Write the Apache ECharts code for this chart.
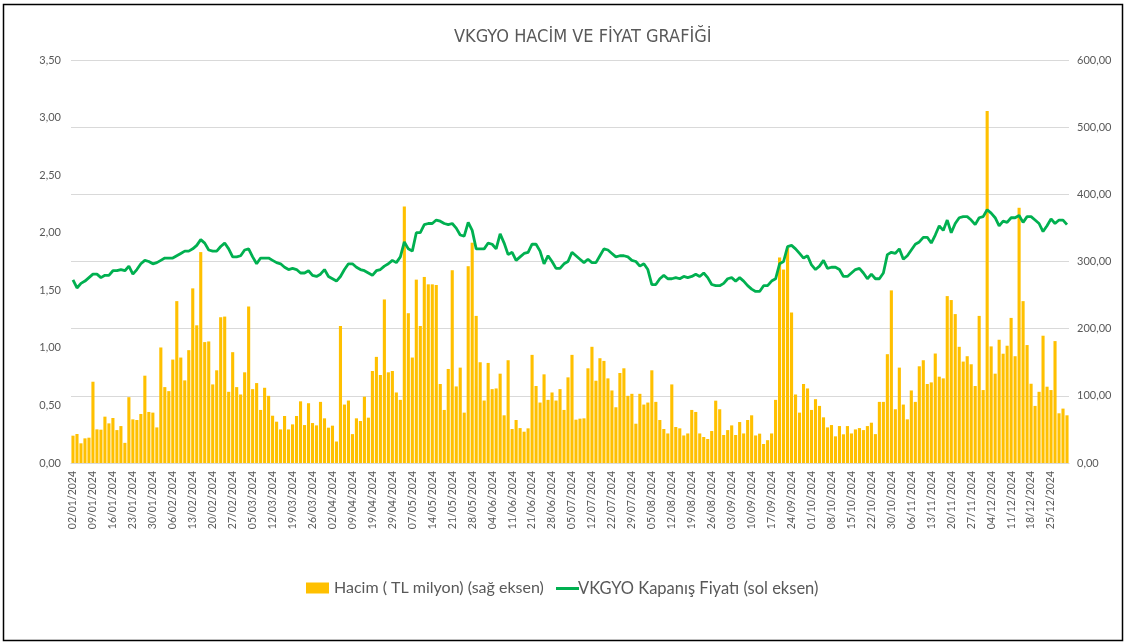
<!DOCTYPE html>
<html>
<head>
<meta charset="utf-8">
<script src="https://cdn.jsdelivr.net/npm/echarts@6/dist/echarts.min.js"></script>
<style>
html,body{margin:0;padding:0;background:#fff;}
#chart{width:1130px;height:643px;}
</style>
</head>
<body>
<div id="chart"></div>
<script>
const dates = [
"02/01/2024","03/01/2024","04/01/2024","05/01/2024","08/01/2024","09/01/2024","10/01/2024","11/01/2024","12/01/2024","15/01/2024",
"16/01/2024","17/01/2024","18/01/2024","19/01/2024","22/01/2024","23/01/2024","24/01/2024","25/01/2024","26/01/2024","29/01/2024",
"30/01/2024","31/01/2024","01/02/2024","02/02/2024","05/02/2024","06/02/2024","07/02/2024","08/02/2024","09/02/2024","12/02/2024",
"13/02/2024","14/02/2024","15/02/2024","16/02/2024","19/02/2024","20/02/2024","21/02/2024","22/02/2024","23/02/2024","26/02/2024",
"27/02/2024","28/02/2024","29/02/2024","01/03/2024","04/03/2024","05/03/2024","06/03/2024","07/03/2024","08/03/2024","11/03/2024",
"12/03/2024","13/03/2024","14/03/2024","15/03/2024","18/03/2024","19/03/2024","20/03/2024","21/03/2024","22/03/2024","25/03/2024",
"26/03/2024","27/03/2024","28/03/2024","29/03/2024","01/04/2024","02/04/2024","03/04/2024","04/04/2024","05/04/2024","08/04/2024",
"09/04/2024","15/04/2024","16/04/2024","17/04/2024","18/04/2024","19/04/2024","22/04/2024","24/04/2024","25/04/2024","26/04/2024",
"29/04/2024","30/04/2024","02/05/2024","03/05/2024","06/05/2024","07/05/2024","08/05/2024","09/05/2024","10/05/2024","13/05/2024",
"14/05/2024","15/05/2024","16/05/2024","17/05/2024","20/05/2024","21/05/2024","22/05/2024","23/05/2024","24/05/2024","27/05/2024",
"28/05/2024","29/05/2024","30/05/2024","31/05/2024","03/06/2024","04/06/2024","05/06/2024","06/06/2024","07/06/2024","10/06/2024",
"11/06/2024","12/06/2024","13/06/2024","14/06/2024","20/06/2024","21/06/2024","24/06/2024","25/06/2024","26/06/2024","27/06/2024",
"28/06/2024","01/07/2024","02/07/2024","03/07/2024","04/07/2024","05/07/2024","08/07/2024","09/07/2024","10/07/2024","11/07/2024",
"12/07/2024","16/07/2024","17/07/2024","18/07/2024","19/07/2024","22/07/2024","23/07/2024","24/07/2024","25/07/2024","26/07/2024",
"29/07/2024","30/07/2024","31/07/2024","01/08/2024","02/08/2024","05/08/2024","06/08/2024","07/08/2024","08/08/2024","09/08/2024",
"12/08/2024","13/08/2024","14/08/2024","15/08/2024","16/08/2024","19/08/2024","20/08/2024","21/08/2024","22/08/2024","23/08/2024",
"26/08/2024","27/08/2024","28/08/2024","29/08/2024","02/09/2024","03/09/2024","04/09/2024","05/09/2024","06/09/2024","09/09/2024",
"10/09/2024","11/09/2024","12/09/2024","13/09/2024","16/09/2024","17/09/2024","18/09/2024","19/09/2024","20/09/2024","23/09/2024",
"24/09/2024","25/09/2024","26/09/2024","27/09/2024","30/09/2024","01/10/2024","02/10/2024","03/10/2024","04/10/2024","07/10/2024",
"08/10/2024","09/10/2024","10/10/2024","11/10/2024","14/10/2024","15/10/2024","16/10/2024","17/10/2024","18/10/2024","21/10/2024",
"22/10/2024","23/10/2024","24/10/2024","25/10/2024","28/10/2024","30/10/2024","31/10/2024","01/11/2024","04/11/2024","05/11/2024",
"06/11/2024","07/11/2024","08/11/2024","11/11/2024","12/11/2024","13/11/2024","14/11/2024","15/11/2024","18/11/2024","19/11/2024",
"20/11/2024","21/11/2024","22/11/2024","25/11/2024","26/11/2024","27/11/2024","28/11/2024","29/11/2024","02/12/2024","03/12/2024",
"04/12/2024","05/12/2024","06/12/2024","09/12/2024","10/12/2024","11/12/2024","12/12/2024","13/12/2024","16/12/2024","17/12/2024",
"18/12/2024","19/12/2024","20/12/2024","23/12/2024","24/12/2024","25/12/2024","26/12/2024","27/12/2024","30/12/2024","31/12/2024"
];

// Hacim (TL milyon) - right axis
const volume = [
40.7,43.2,29.3,36.7,37.7,121,50.1,49.6,69,59,
67,49,55,30,98,65,64,73,130,76,
75,53,172,113,107,154,241,157,123,168,
260,205,314,180,181,117,138,217,218,106,
165,113,102,135,233,110,119,79,112,100,
70.4,61.5,50,70,50,57.5,70,91.8,56.5,89,
59.5,56,91,66.5,52.6,55.6,32,204,87,93,
43,66.5,62.5,98.7,67.5,137,158,131,243.5,135,
137,105,94,382,223,157,273,204,277,266,
266,265,117.6,79,140,287,114,142,75,293,
328,219,150,93,149,110,111,133,71,153,
50.6,64,52,46.6,51.6,161,114.6,90,132,94,
105,93,110,79,127.5,161,64.5,66,66.5,141,
173,122.5,156,152,126,108,83,134,141,100,
103,58.5,103,87,90,138,91,64,50.6,44,
117,53.6,51.6,41,44,79,76,44,38.7,35.7,
47.6,92.8,80,41.7,49,56,41.7,61,44,64,
71,41,43.7,28.3,34,44,94,306,288,321,
224,102,75,117.6,111,79,95,85,68,53,
56.5,39.7,55,42.7,55,44,50,52,49,55,
60,43,91,91,162,257,80,142,87,65,
108,91,144,153,117.6,120,163,128.5,126,248.5,
242.6,221.7,173,151,159,147,114.6,219,108.6,524,
173.6,133,183.5,162.7,174.6,216,159,380,241,175.6,
118,85,106,189.5,113.6,108.6,181.5,74,81,71
];

// VKGYO Kapanış Fiyatı - left axis
const price = [
1.59,1.52,1.56,1.58,1.61,1.64,1.64,1.61,1.63,1.63,
1.67,1.67,1.68,1.67,1.71,1.64,1.68,1.73,1.76,1.75,
1.73,1.74,1.76,1.78,1.78,1.78,1.80,1.82,1.84,1.84,
1.86,1.89,1.94,1.91,1.85,1.84,1.84,1.88,1.91,1.86,
1.79,1.79,1.80,1.85,1.86,1.79,1.73,1.78,1.78,1.78,
1.76,1.74,1.73,1.70,1.68,1.69,1.68,1.65,1.65,1.67,
1.63,1.62,1.64,1.68,1.62,1.60,1.58,1.62,1.68,1.73,
1.73,1.70,1.68,1.67,1.65,1.63,1.67,1.68,1.71,1.73,
1.76,1.74,1.79,1.92,1.86,1.84,2.00,2.00,2.07,2.08,
2.08,2.11,2.10,2.08,2.07,2.08,2.04,1.98,1.97,2.09,
2.02,1.86,1.86,1.86,1.91,1.90,1.86,1.99,1.91,1.81,
1.83,1.76,1.79,1.82,1.83,1.90,1.90,1.84,1.73,1.80,
1.75,1.69,1.69,1.73,1.75,1.83,1.80,1.77,1.74,1.77,
1.74,1.74,1.80,1.86,1.85,1.82,1.79,1.80,1.80,1.79,
1.76,1.75,1.71,1.73,1.68,1.55,1.55,1.60,1.63,1.60,
1.60,1.61,1.60,1.62,1.61,1.62,1.64,1.62,1.65,1.61,
1.55,1.54,1.54,1.56,1.60,1.61,1.58,1.61,1.58,1.54,
1.51,1.49,1.49,1.54,1.54,1.58,1.60,1.73,1.75,1.88,
1.89,1.86,1.82,1.78,1.80,1.72,1.68,1.71,1.76,1.69,
1.70,1.70,1.68,1.62,1.62,1.65,1.68,1.69,1.65,1.60,
1.64,1.60,1.60,1.65,1.81,1.83,1.82,1.86,1.77,1.80,
1.85,1.90,1.92,1.96,1.96,1.91,1.98,2.06,2.02,2.11,
2.00,2.08,2.13,2.14,2.14,2.11,2.07,2.13,2.14,2.20,
2.17,2.13,2.06,2.10,2.09,2.13,2.13,2.15,2.09,2.14,
2.14,2.11,2.08,2.01,2.06,2.12,2.08,2.11,2.11,2.07
];

const leftTicks = {min: 0, max: 3.5, interval: 0.5};
const rightTicks = {min: 0, max: 600, interval: 100};
const titleText = "VKGYO HACİM VE FİYAT GRAFİĞİ";
const volName = "Hacim ( TL milyon) (sağ eksen)";
const priceName = "VKGYO Kapanış Fiyatı (sol eksen)";

const fmt = v => v.toFixed(2).replace('.', ',');
const gray = '#595959';
const font = 'Lato, "Open Sans", sans-serif';

const chart = echarts.init(document.getElementById('chart'), null, {renderer: 'canvas'});
chart.setOption({
  animation: false,
  backgroundColor: '#fff',
  title: {
    text: titleText, left: 449, top: 23,
    textStyle: {fontFamily: '"Liberation Sans Narrow", "DejaVu Sans Condensed", sans-serif', fontWeight: 'normal', fontSize: 18, color: gray}
  },
  graphic: [{
    type: 'rect', shape: {x: 3.5, y: 4.5, width: 1119, height: 636},
    style: {fill: 'none', stroke: '#000', lineWidth: 1.5}, silent: true, z: 100
  }],
  legend: [{
    left: 301, top: 575, itemWidth: 23, itemHeight: 11, itemGap: 6,
    textStyle: {fontFamily: font, fontSize: 16, color: gray, padding: [0, 0, 0, 0]},
    data: [{name: volName, icon: 'rect'}]
  }, {
    left: 551, top: 575, itemWidth: 23, itemHeight: 3,
    textStyle: {fontFamily: font, fontSize: 16.5, color: gray, padding: [0, 0, 0, -6]},
    data: [{name: priceName, icon: 'rect', itemStyle: {color: '#00B050'}}]
  }],
  grid: {left: 71, right: 61, top: 60, bottom: 180, containLabel: false},
  xAxis: {
    type: 'category', data: dates, boundaryGap: true,
    axisLine: {lineStyle: {color: '#D9D9D9'}},
    axisTick: {show: false},
    axisLabel: {interval: 4, rotate: 90, fontFamily: font, fontSize: 10.5, color: gray, margin: 8}
  },
  yAxis: [{
    type: 'value', position: 'left', min: leftTicks.min, max: leftTicks.max, interval: leftTicks.interval,
    axisLine: {show: false}, axisTick: {show: false}, splitLine: {show: false},
    axisLabel: {formatter: fmt, fontFamily: font, fontSize: 11, color: gray, margin: 10}
  }, {
    type: 'value', position: 'right', min: rightTicks.min, max: rightTicks.max, interval: rightTicks.interval,
    axisLine: {show: false}, axisTick: {show: false},
    splitLine: {show: true, lineStyle: {color: '#D9D9D9', width: 1}},
    axisLabel: {formatter: fmt, fontFamily: font, fontSize: 11, color: gray, margin: 8}
  }],
  series: [{
    name: volName, type: 'bar', yAxisIndex: 1, data: volume,
    itemStyle: {color: '#FFC000'}, barCategoryGap: '22%', z: 2
  }, {
    name: priceName, type: 'line', yAxisIndex: 0, data: price,
    symbol: 'none', showSymbol: false,
    lineStyle: {color: '#00B050', width: 2.8}, itemStyle: {color: '#00B050'}, z: 3
  }]
});
</script>
</body>
</html>
